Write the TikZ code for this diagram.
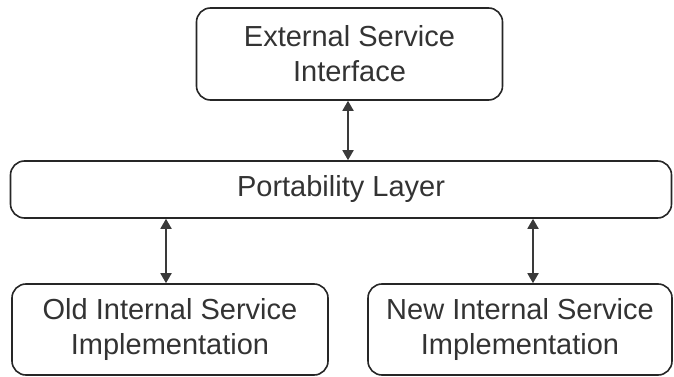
\documentclass[tikz,border=0pt]{standalone}
\usepackage{fontspec}
\setmainfont{Liberation Sans}
\usetikzlibrary{arrows.meta}
\definecolor{linec}{HTML}{262626}
\definecolor{textc}{HTML}{333333}
\definecolor{arrc}{HTML}{3A3A3A}
\begin{document}
\begin{tikzpicture}[x=1pt,y=-1pt,
  box/.style={draw=linec, line width=1.6pt, rounded corners=14pt, inner sep=0pt,
    align=center, text=textc, font=\fontsize{29}{35}\selectfont},
  link/.style={draw=arrc, line width=1.8pt,
    {Triangle[width=11pt,length=10pt]}-{Triangle[width=11pt,length=10pt]}}]
\useasboundingbox (0,0) rectangle (674,377);
\node[box, minimum width=306pt, minimum height=92pt] (top) at (349.5,54) {External Service\\Interface};
\node[box, minimum width=661pt, minimum height=57pt] (port) at (341,189.5) {Portability Layer};
\node[box, minimum width=316pt, minimum height=91pt] (old) at (170,329.5) {Old Internal Service\\Implementation};
\node[box, minimum width=304pt, minimum height=91pt] (new) at (520,329.5) {New Internal Service\\Implementation};
\coordinate (a1) at (348,0);
\coordinate (a2) at (166,0);
\coordinate (a3) at (533,0);
\draw[link] (top.south -| a1) -- (port.north -| a1);
\draw[link] (port.south -| a2) -- (old.north -| a2);
\draw[link] (port.south -| a3) -- (new.north -| a3);
\end{tikzpicture}
\end{document}
